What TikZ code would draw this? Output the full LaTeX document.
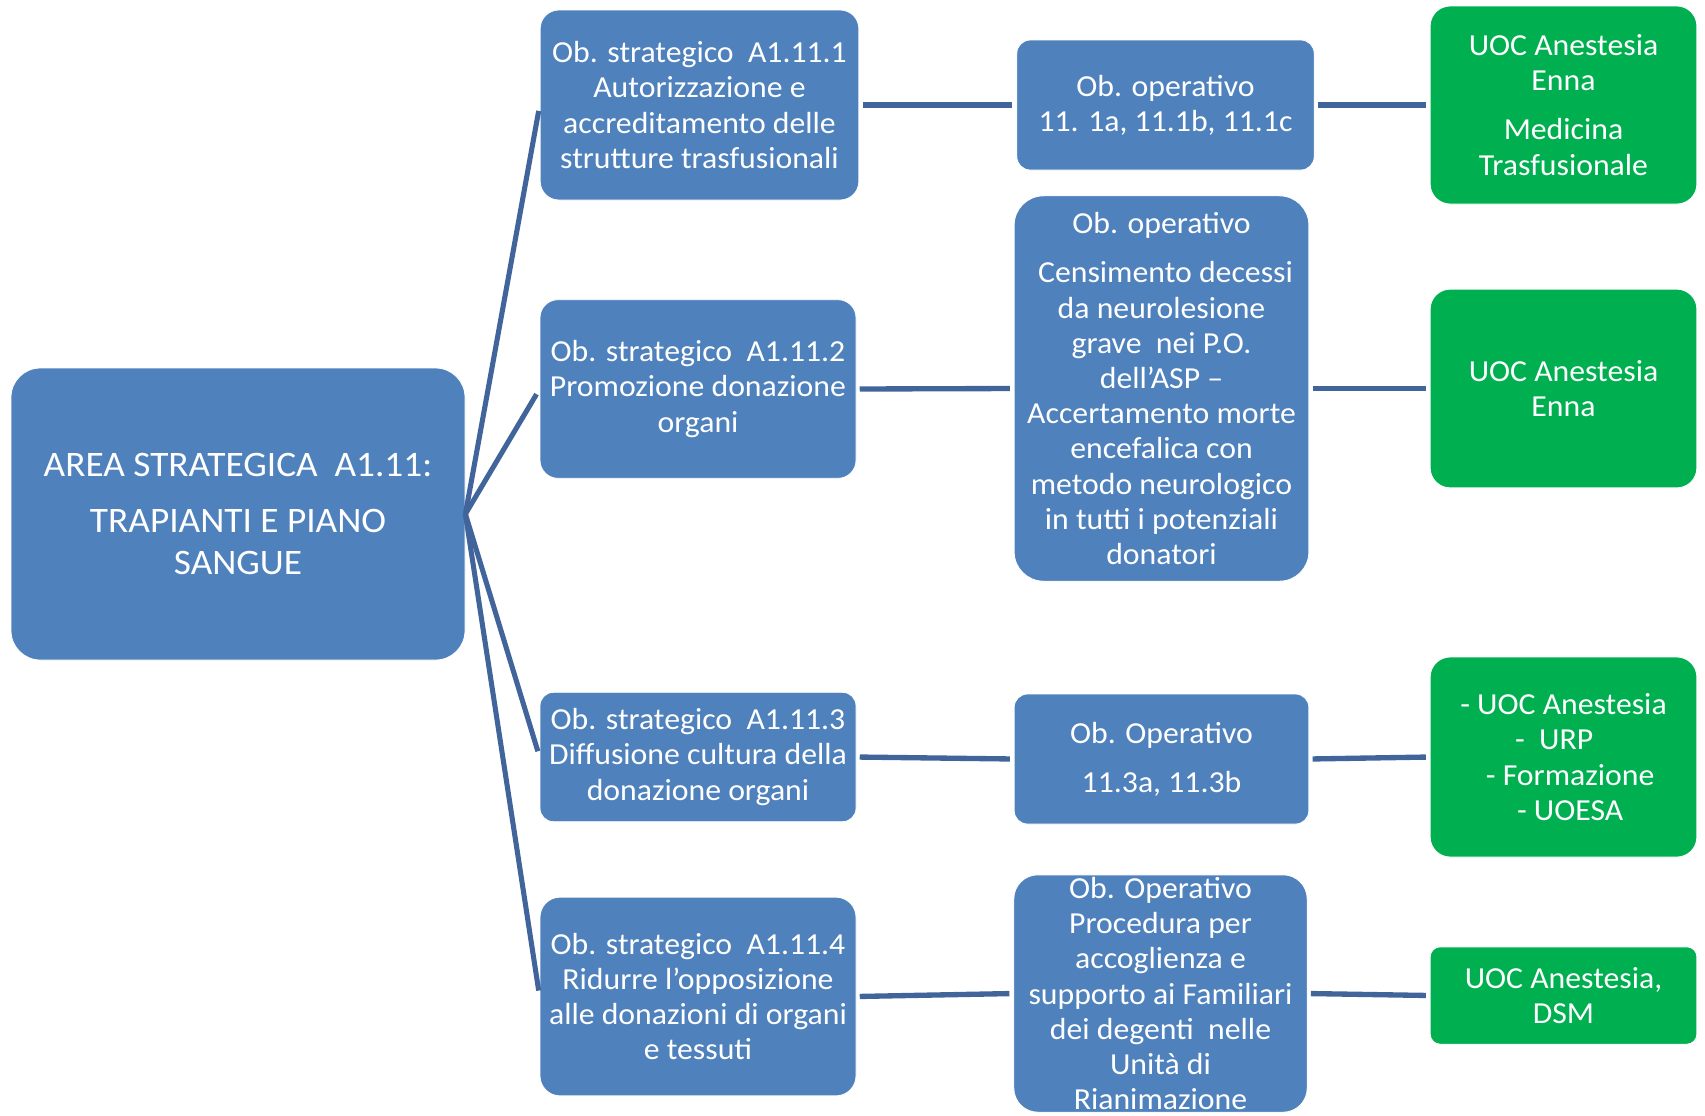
\documentclass[tikz,border=0pt]{standalone}
\usepackage{fontspec}
\setmainfont{Carlito}[FakeStretch=1.04]
\begin{document}
\definecolor{boxblue}{RGB}{79,129,189}
\definecolor{boxgreen}{RGB}{0,176,80}
\definecolor{linkblue}{RGB}{65,101,154}
\begin{tikzpicture}[x=0.75pt,y=-0.75pt,
  base/.style={draw=white,line width=0.6pt,text=white,align=center,inner sep=0pt,
    font=\fontsize{22.9}{26.4}\selectfont},
  bluebox/.style={base,fill=boxblue},
  greenbox/.style={base,fill=boxgreen},
  conn/.style={draw=linkblue,line width=4pt,shorten <=2.5pt,shorten >=3pt},
  fan/.style={draw=linkblue,line width=3.8pt,shorten >=4.5pt}]
\useasboundingbox (0,0) rectangle (1705,1115);

% root area
\node[bluebox,minimum width=340.5pt,minimum height=219pt,rounded corners=22pt,
  font=\fontsize{26.9}{31}\selectfont] (root) at (238,514)
  {AREA STRATEGICA~ A1.11:\\[11pt]TRAPIANTI E PIANO\\SANGUE};

% strategic objectives
\node[bluebox,minimum width=239pt,minimum height=142.5pt,rounded corners=14pt] (s1) at (699.5,105)
  {Ob. strategico~ A1.11.1\\Autorizzazione e\\accreditamento delle\\strutture trasfusionali};
\node[bluebox,minimum width=237pt,minimum height=134pt,rounded corners=13.5pt] (s2) at (698,389)
  {Ob. strategico~ A1.11.2\\Promozione donazione\\organi};
\node[bluebox,minimum width=237pt,minimum height=97pt,rounded corners=10pt] (s3) at (698,757)
  {Ob. strategico~ A1.11.3\\Diffusione cultura della\\donazione organi};
\node[bluebox,minimum width=237pt,minimum height=149pt,rounded corners=15pt] (s4) at (698,996.5)
  {Ob. strategico~ A1.11.4\\Ridurre l’opposizione\\alle donazioni di organi\\e tessuti};

% operative objectives
\node[bluebox,minimum width=223pt,minimum height=97.5pt,rounded corners=10pt] (o1) at (1165.5,105)
  {Ob. operativo\\11. 1a, 11.1b, 11.1c};
\node[bluebox,minimum width=221pt,minimum height=289pt,rounded corners=22pt] (o2) at (1161.5,388.5)
  {Ob. operativo\\[10.5pt]\hspace*{6pt}Censimento decessi\\da neurolesione\\grave~ nei P.O.\\dell’ASP –\\Accertamento morte\\encefalica con\\metodo neurologico\\in tutti i potenziali\\donatori};
\node[bluebox,minimum width=221pt,minimum height=97.5pt,rounded corners=10pt] (o3) at (1161.5,759)
  {Ob. Operativo\\[10.5pt]11.3a, 11.3b};
\node[bluebox,minimum width=220pt,minimum height=178pt,rounded corners=18pt] (o4) at (1160.5,993.5)
  {Ob. Operativo\\Procedura per\\accoglienza e\\supporto ai Familiari\\dei degenti~ nelle\\Unità di\\Rianimazione};

% responsible units
\node[greenbox,minimum width=200pt,minimum height=148.5pt,rounded corners=15pt] (g1) at (1563.5,105)
  {UOC Anestesia\\Enna\\[10.5pt]Medicina\\Trasfusionale};
\node[greenbox,minimum width=200pt,minimum height=149pt,rounded corners=15pt] (g2) at (1563.5,388.5)
  {UOC Anestesia\\Enna};
\node[greenbox,minimum width=200pt,minimum height=150pt,rounded corners=15pt] (g3) at (1563.5,757)
  {- UOC Anestesia\\\hspace*{-14pt}-~ URP\\\hspace*{10pt}- Formazione\\\hspace*{10pt}- UOESA};
\node[greenbox,minimum width=200pt,minimum height=73pt,rounded corners=7.5pt] (g4) at (1563.5,995.5)
  {UOC Anestesia,\\DSM};

% connectors
\foreach \s in {s1,s2,s3,s4}
  \draw[fan] (root.east) -- (\s.west);
\draw[conn] (s1.east) -- (o1.west);
\draw[conn] (o1.east) -- (g1.west);
\draw[conn] (s2.east) -- (o2.west);
\draw[conn] (o2.east) -- (g2.west);
\draw[conn] (s3.east) -- (o3.west);
\draw[conn] (o3.east) -- (g3.west);
\draw[conn] (s4.east) -- (o4.west);
\draw[conn] (o4.east) -- (g4.west);
\end{tikzpicture}
\end{document}
